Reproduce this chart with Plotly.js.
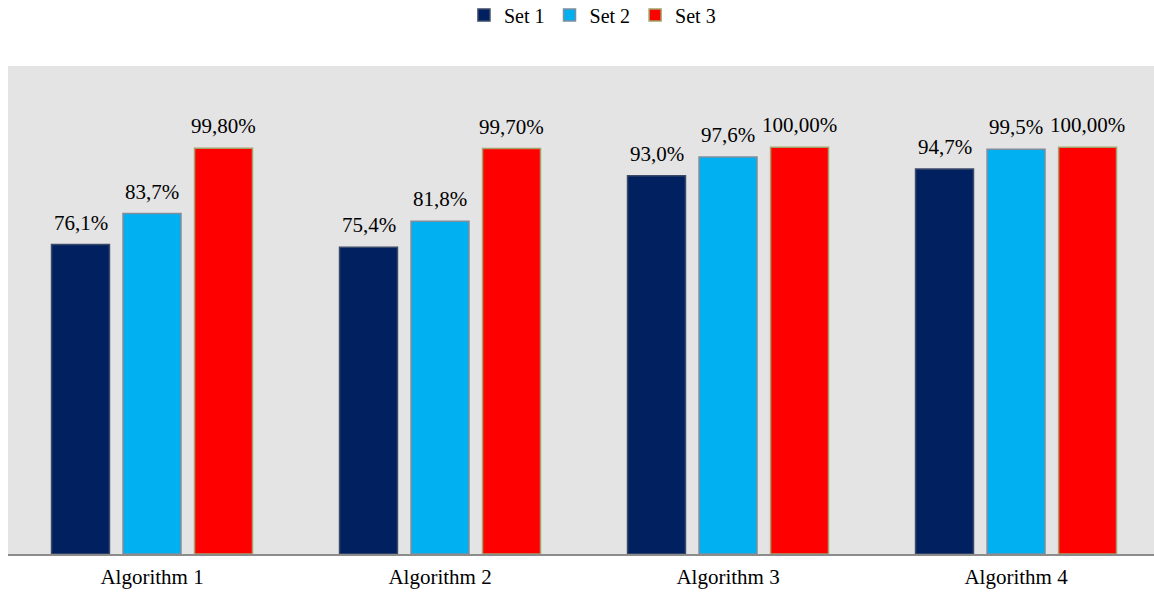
<!DOCTYPE html>
<html>
<head>
<meta charset="utf-8">
<script src="https://cdn.plot.ly/plotly-3.0.1.min.js"></script>
<style>html,body{margin:0;padding:0;background:#fff;}#chart{width:1154px;height:594px;}</style>
</head>
<body>
<div id="chart"></div>
<script>
const categories = ["Algorithm 1", "Algorithm 2", "Algorithm 3", "Algorithm 4"];
const seriesNames = ["Set 1", "Set 2", "Set 3"];
const set1 = [76.1, 75.4, 93.0, 94.7];
const set2 = [83.7, 81.8, 97.6, 99.5];
const set3 = [99.8, 99.7, 100.0, 100.0];
const labels1 = ["76,1%", "75,4%", "93,0%", "94,7%"];
const labels2 = ["83,7%", "81,8%", "97,6%", "99,5%"];
const labels3 = ["99,80%", "99,70%", "100,00%", "100,00%"];

const fills = ["#002060", "#00b0f0", "#ff0000"];
const outlines = ["#3b4a68", "#7f8d9c", "#a3a26a"];
const values = [set1, set2, set3];
const labels = [labels1, labels2, labels3];
const font = "Liberation Serif";

const traces = values.map((v, i) => ({
  type: "bar",
  name: seriesNames[i],
  x: categories,
  y: v,
  marker: {color: fills[i], line: {color: outlines[i], width: 1.5}},
  hoverinfo: "skip"
}));

const shifts = [-71.5, 0, 71.5];
const annotations = [];
values.forEach((v, i) => {
  v.forEach((val, j) => {
    annotations.push({
      x: categories[j], y: val, xref: "x", yref: "y",
      text: labels[i][j], showarrow: false,
      xshift: shifts[i], yshift: 8, yanchor: "bottom",
      font: {family: font, size: 21, color: "#000"}
    });
  });
});

const layout = {
  width: 1154, height: 594,
  margin: {l: 8, r: 0, t: 66, b: 40, autoexpand: false},
  paper_bgcolor: "#ffffff",
  plot_bgcolor: "#e4e4e4",
  barmode: "group",
  bargap: 0.255,
  bargroupgap: 0.19,
  font: {family: font, size: 20, color: "#000"},
  showlegend: true,
  legend: {
    orientation: "h", x: 0.51, xanchor: "center", y: 1.1045, yanchor: "middle",
    font: {family: font, size: 20, color: "#000"},
    itemwidth: 30, traceorder: "normal"
  },
  xaxis: {
    type: "category",
    range: [-0.5, 3.479],
    showline: true, linecolor: "#8c8c8c", linewidth: 2,
    ticks: "", showgrid: false, zeroline: false,
    ticklabelstandoff: 3,
    tickfont: {family: font, size: 21, color: "#000"},
    fixedrange: true
  },
  yaxis: {
    range: [0, 120], visible: false, showgrid: false, zeroline: false, fixedrange: true
  },
  annotations: annotations
};

Plotly.newPlot("chart", traces, layout, {displayModeBar: false, staticPlot: true});
</script>
</body>
</html>
